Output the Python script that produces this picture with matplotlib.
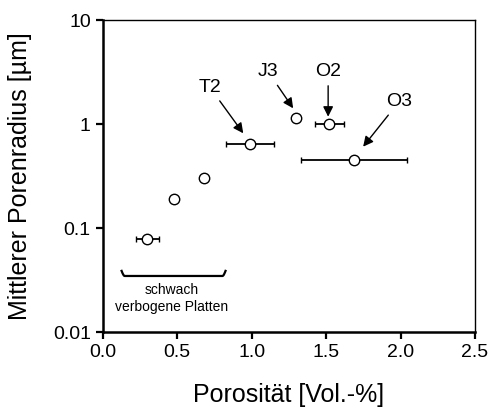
import numpy as np
import matplotlib.pyplot as plt

plt.rcParams['font.family'] = ['Liberation Sans', 'DejaVu Sans']

# Porositaet [Vol.-%] und mittlerer Porenradius [um]
porosity = [0.30, 0.48, 0.68, 0.99, 1.295, 1.52, 1.69]
radius = [0.078, 0.19, 0.305, 0.643, 1.135, 1.0, 0.454]
# horizontal error (lower, upper) in Vol.-%
err_lo = [0.075, 0.0, 0.0, 0.16, 0.0, 0.095, 0.355]
err_hi = [0.075, 0.0, 0.0, 0.16, 0.0, 0.10, 0.355]

# sample labels: arrow tip and text centre (data coords)
labels = ['T2', 'J3', 'O2', 'O3']
arrow_tip = [(0.944, 0.814), (1.279, 1.416), (1.514, 1.175), (1.749, 0.605)]
label_pos = [(0.72, 2.25), (1.111, 3.18), (1.514, 3.18), (1.99, 1.64)]

fig = plt.figure(figsize=(4.92, 4.15), dpi=100)
ax = fig.add_axes([0.2087, 0.2, 0.7567, 0.7518])

ax.errorbar(porosity, radius, xerr=[err_lo, err_hi], fmt='o', color='black',
            mfc='white', mec='black', ms=7.5, mew=1.0, elinewidth=1.3,
            capsize=2.5, capthick=1.6, zorder=3)

for lab, tip, tp in zip(labels, arrow_tip, label_pos):
    ax.annotate(lab, xy=tip, xytext=tp, ha='center', va='center', fontsize=14,
                arrowprops=dict(arrowstyle='-|>', color='black', lw=1.0,
                                mutation_scale=15, shrinkA=2, shrinkB=0))

# Klammer unter den schwach verbogenen Platten
bx = np.linspace(0.127, 0.825, 200)
t = (bx - bx[0]) / (bx[-1] - bx[0])
by_px = np.minimum(np.minimum(t, 1 - t) / 0.03, 1.0)
by = 10 ** (np.log10(0.0387) - 0.049 * np.sin(np.pi / 2 * by_px))
ax.plot(bx, by, color='black', lw=1.6)
ax.text(0.465, 0.0295, 'schwach\nverbogene Platten', ha='center', va='top',
        fontsize=10, linespacing=1.25)

ax.set_yscale('log')
ax.set_xlim(0, 2.5)
ax.set_ylim(0.01, 10)
ax.set_xticks([0.0, 0.5, 1.0, 1.5, 2.0, 2.5])
ax.set_xticklabels(['0.0', '0.5', '1.0', '1.5', '2.0', '2.5'])
ax.set_yticks([0.01, 0.1, 1, 10])
ax.set_yticklabels(['0.01', '0.1', '1', '10'])
ax.minorticks_off()
ax.tick_params(labelsize=14, width=1.6, length=5, direction='out')
for s in ['left', 'bottom']:
    ax.spines[s].set_linewidth(1.8)
for s in ['top', 'right']:
    ax.spines[s].set_linewidth(1.0)

ax.set_xlabel('Porosität [Vol.-%]', fontsize=18)
ax.set_ylabel('Mittlerer Porenradius [µm]', fontsize=18)
ax.xaxis.set_label_coords(0.5, -0.162)
ax.yaxis.set_label_coords(-0.19, 0.5)

fig.savefig('out.png', dpi=100)
